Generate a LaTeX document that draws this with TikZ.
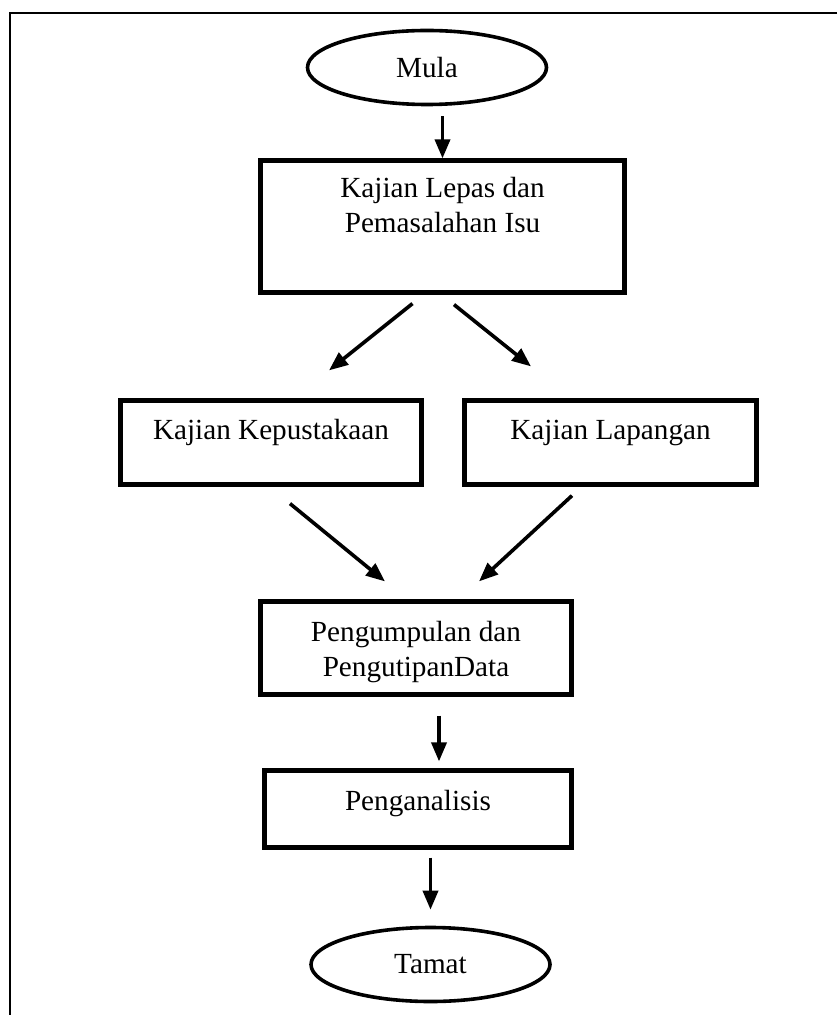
\documentclass[tikz,border=0pt]{standalone}
\usepackage{fontspec}
\setmainfont{Liberation Serif}
\usetikzlibrary{shapes.geometric, arrows.meta, calc}

\tikzset{
  terminal/.style={draw, ellipse, line width=1.8pt, minimum width=119.5pt, minimum height=37pt, inner sep=0pt},
  process/.style={draw, rectangle, line width=2.2pt, align=center, inner sep=0pt, text height=10pt},
  flow/.style={-{Triangle[length=9.5pt, width=7.5pt]}, line width=1.8pt},
}

\begin{document}
\begin{tikzpicture}[x=0.5pt, y=-0.5pt, font=\fontsize{14.6}{17.5}\selectfont]
    \useasboundingbox (0,0) rectangle (837,1015);
    \draw[line width=1.2pt] (837,13) -- (10,13) -- (10,1015);

    \node[terminal] (mula) at (427,67.5) {Mula};
    \node[process, minimum width=181.9pt, minimum height=65.9pt, text depth=3.5pt] (lepas) at (442.5,226.5) {Kajian Lepas dan\\Pemasalahan Isu};
    \node[process, minimum width=150.4pt, minimum height=41.9pt, text depth=13.5pt] (pustaka) at (271,442.5) {Kajian Kepustakaan};
    \node[process, minimum width=145.9pt, minimum height=41.9pt, text depth=13.5pt] (lapangan) at (610.5,442.5) {Kajian Lapangan};
    \node[process, minimum width=155.4pt, minimum height=46.4pt, text height=30pt, text depth=2pt] (kumpul) at (416,648) {Pengumpulan dan\\PengutipanData};
    \node[process, minimum width=153.4pt, minimum height=38.4pt, text depth=9pt] (analisis) at (418,809) {Penganalisis};
    \node[terminal] (tamat) at (430.5,964.5) {Tamat};

    \draw[flow, shorten <=5pt] (mula.south -| lepas.north) -- (lepas.north);
    \draw[flow] ($(lepas.south)+(-30,9)$) -- ($(pustaka.north)+(58,-28)$);
    \draw[flow] ($(lepas.south)+(11.5,10)$) -- ($(lapangan.north)+(-79.5,-32)$);
    \draw[flow] ($(pustaka.south)+(19,17)$) -- ($(kumpul.north)+(-31,-18)$);
    \draw[flow] ($(lapangan.south)+(-38.5,9)$) -- ($(kumpul.north)+(63,-18)$);
    \draw[flow] ($(kumpul.south)+(23,19)$) -- ($(analisis.north)+(21,-7)$);
    \draw[flow, shorten <=4pt] (analisis.south -| tamat.north) -- ($(tamat.north)+(0,-16)$);
\end{tikzpicture}
\end{document}
